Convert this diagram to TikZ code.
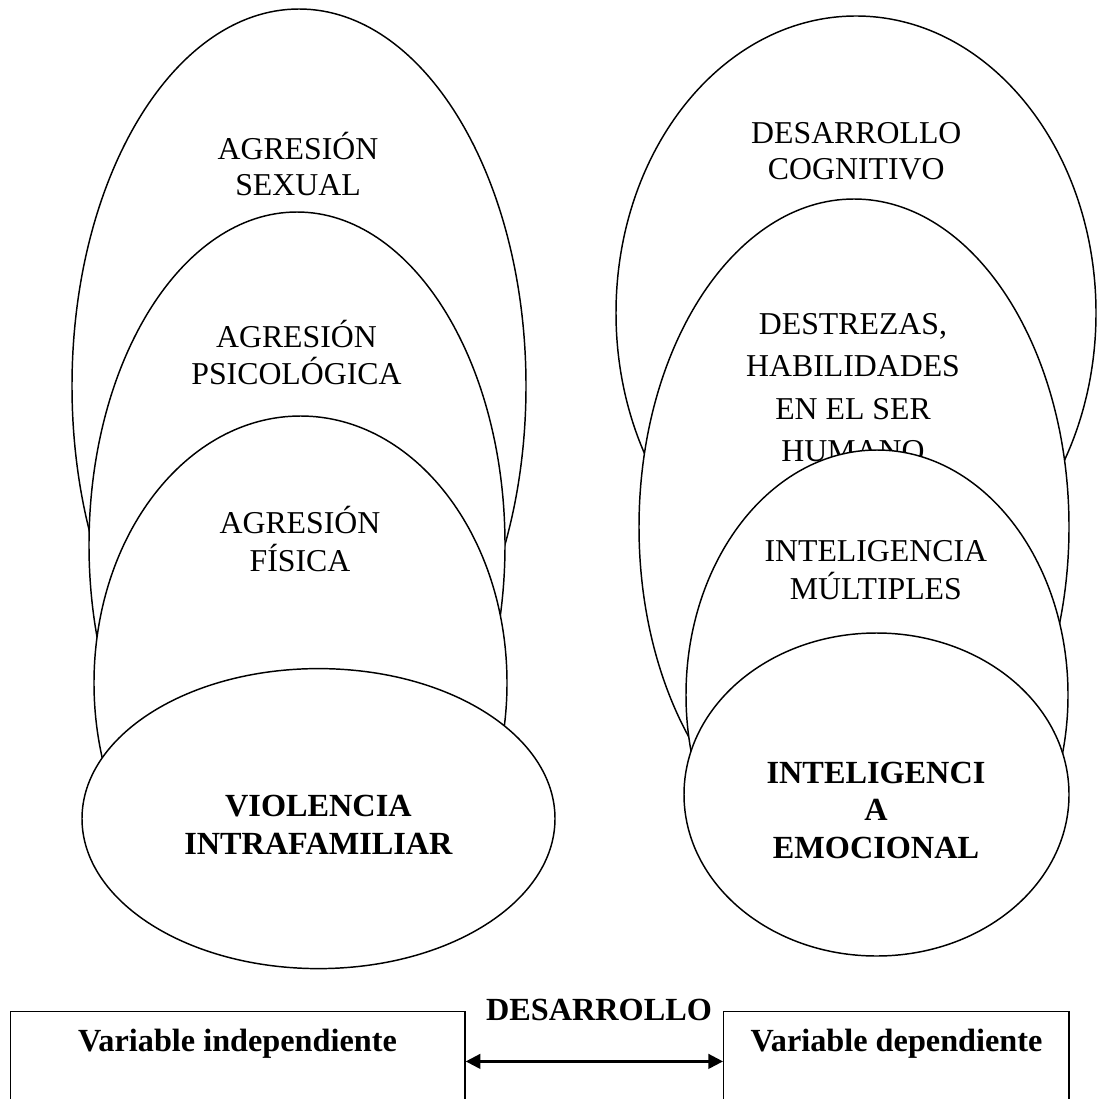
\documentclass[tikz,border=0pt]{standalone}
\usepackage{fontspec}
\setmainfont{Liberation Serif}
\usetikzlibrary{shapes.geometric,arrows.meta}
\newcommand{\stk}[2]{\vtop{\baselineskip=#1\relax\lineskiplimit=-100pt\lineskip=0pt\halign{\hfil##\hfil\cr#2\crcr}}}
\begin{document}
\begin{tikzpicture}[x=0.75pt,y=-0.75pt,
  ell/.style={ellipse, draw, fill=white, line width=1.1pt, inner sep=0pt},
  lbl/.style={inner sep=0pt, anchor=base, font=\fontsize{23.85pt}{28pt}\selectfont},
  blbl/.style={inner sep=0pt, anchor=base, font=\fontsize{24.2pt}{28pt}\selectfont\bfseries},
  varbox/.style={draw, line width=1.1pt, inner sep=0pt, minimum height=75pt},
  conn/.style={line width=1.8pt, {Triangle[length=11pt,width=11pt]}-{Triangle[length=11pt,width=11pt]}}
]
\useasboundingbox (0,0) rectangle (1097,1099);
\clip (0,0) rectangle (1097,1099);

% left group
\node[ell, minimum width=340.5pt, minimum height=565.5pt] (e1) at (299,386) {};
\node[lbl] (t1) at (298,159) {\stk{27.6pt}{AGRESIÓN\cr SEXUAL}};
\node[ell, minimum width=312pt, minimum height=499.5pt] (e2) at (297,545) {};
\node[lbl] (t2) at (296.5,347) {\stk{28.1pt}{AGRESIÓN\cr PSICOLÓGICA}};
\node[ell, minimum width=309.75pt, minimum height=400.5pt] (e3) at (300.5,683) {};
\node[lbl] (t3) at (300,533) {\stk{28.7pt}{AGRESIÓN\cr FÍSICA}};
\node[ell, minimum width=354.75pt, minimum height=225pt] (e4) at (318.5,818.6) {};
\node[blbl] (t4) at (318.4,816.8) {\stk{28.1pt}{VIOLENCIA\cr INTRAFAMILIAR}};

% right group
\node[ell, minimum width=360pt, minimum height=445.5pt] (e5) at (856,313) {};
\node[lbl] (t5) at (856.3,143.3) {\stk{27.5pt}{DESARROLLO\cr COGNITIVO}};
\node[ell, minimum width=322.5pt, minimum height=492pt] (e6) at (854,527) {};
\node[lbl] (t6) at (853,334.3) {\stk{31.8pt}{DESTREZAS,\cr HABILIDADES\cr EN EL SER\cr HUMANO}};
\node[ell, minimum width=286.5pt, minimum height=367.5pt] (e7) at (877,695) {};
\node[lbl] (t7) at (875.8,561.7) {\stk{28.7pt}{INTELIGENCIA\cr MÚLTIPLES}};
\node[ell, minimum width=288.75pt, minimum height=242.25pt] (e8) at (876.5,794.5) {};
\node[blbl] (t8) at (876,783.3) {\stk{28.1pt}{INTELIGENCI\cr A\cr EMOCIONAL}};

% bottom boxes
\node[varbox, minimum width=340.8pt] (b1) at (237.8,1061.4) {};
\node[varbox, minimum width=259pt] (b2) at (896.4,1061.4) {};
\node[blbl] (v1) at (237.5,1051) {Variable independiente};
\node[blbl] (v2) at (896.5,1051) {Variable dependiente};
\node[blbl] (d) at (599,1020.4) {DESARROLLO};
\draw[conn] (b1.east) -- (b2.west);
\end{tikzpicture}
\end{document}
